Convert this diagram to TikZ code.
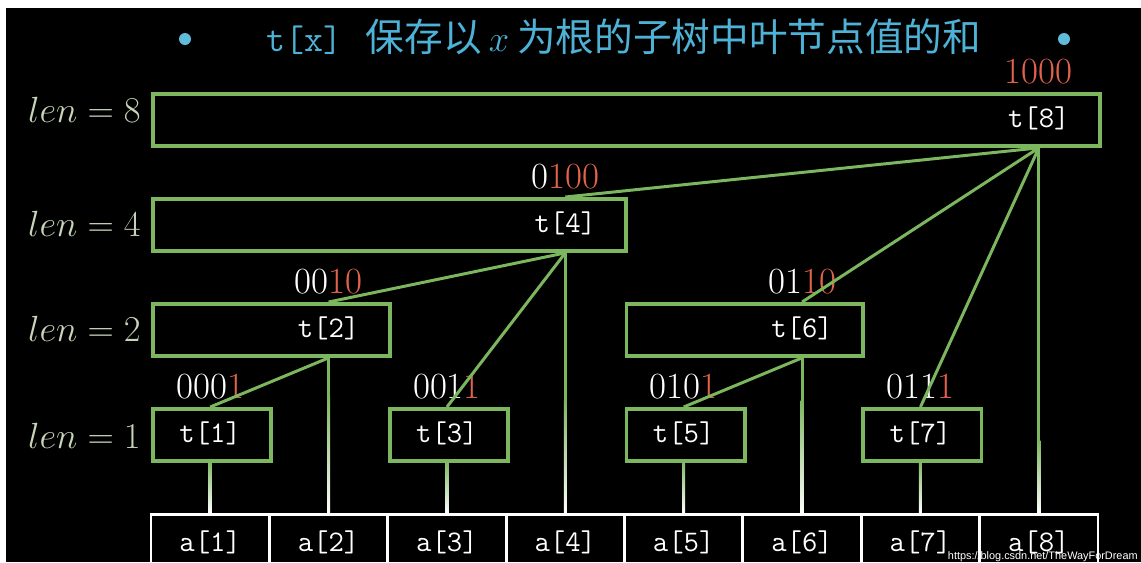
\documentclass[tikz,border=0pt]{standalone}
\usepackage{fontspec}
\newfontfamily\cjk{Noto Sans CJK SC}
\newfontfamily\marksans{Liberation Sans}
\usetikzlibrary{positioning}

\definecolor{treegreen}{RGB}{124,182,94}
\definecolor{lowbit}{RGB}{226,98,76}
\definecolor{headcyan}{RGB}{78,178,214}
\definecolor{lencolor}{RGB}{200,212,186}

\tikzset{
  tbox/.style={draw=treegreen, line width=2.2pt, minimum height=1.04cm, inner sep=0pt, anchor=north west},
  tname/.style={text=white, font=\fontsize{17}{20}\selectfont\ttfamily, inner sep=0pt},
  abox/.style={draw=white, line width=1.6pt, minimum width=2.3675cm, minimum height=1.1cm, inner sep=0pt, anchor=north, text=white, font=\fontsize{17}{20}\selectfont\ttfamily},
  bits/.style={font=\fontsize{21}{24}\selectfont, text=white, anchor=base, inner sep=0pt},
  lenlabel/.style={text=lencolor, font=\fontsize{21}{24}\selectfont, anchor=east, inner sep=0pt},
  link/.style={draw=treegreen, line width=1.7pt},
  dot/.style={circle, fill=headcyan!90!white, minimum size=0.24cm, inner sep=0pt}
}

\begin{document}
\begin{tikzpicture}[x=0.02cm, y=-0.02cm]

\useasboundingbox (0,0) rectangle (1141,562);
\fill[white] (0,0) rectangle (1141,562);
\fill[black] (6,8) rectangle (1141,562);

% title
\node[dot] (dotl) at (185,39) {};
\node[dot] (dotr) at (1064,39) {};
\node[text=headcyan, inner sep=0pt] (head) at (624,37)
  {{\fontsize{21}{24}\selectfont\ttfamily t[x]}\hspace{0.46cm}{\fontsize{22}{26}\selectfont\cjk 保存以}\hspace{0.14cm}{\fontsize{21}{24}\selectfont$x$}\hspace{0.16cm}{\fontsize{22}{26}\selectfont\cjk 为根的子树中叶节点值的和}};

% levels
\node[lenlabel] (len8) at (141,110) {$len = 8$};
\node[lenlabel] (len4) at (141,224) {$len = 4$};
\node[lenlabel] (len2) at (141,329) {$len = 2$};
\node[lenlabel] (len1) at (141,436) {$len = 1$};

% tree boxes t[k]
\foreach \k/\l/\top/\w/\r in {1/1/407/000/1, 2/2/302/00/10, 3/1/407/001/1, 4/4/197/0/100,
                               5/1/407/010/1, 6/2/302/01/10, 7/1/407/011/1, 8/8/92//1000} {
  \pgfmathsetmacro\lft{151+(\k-\l)*118.375}
  \pgfmathsetmacro\ax{151+(\k-0.5)*118.375}
  \node[tbox, minimum width=\l*2.3675cm] (b\k) at (\lft,\top) {};
  \node[tname] (t\k) at (\ax,\top+26) {t[\k]};
  \node[bits] (n\k) at (\ax,\top-9) {\w\textcolor{lowbit}{\r}};
}

% array a[k]
\foreach \k in {1,...,8} {
  \pgfmathsetmacro\ax{151+(\k-0.5)*118.375}
  \node[abox] (a\k) at (\ax,513) {a[\k]};
}

% parent links
\draw[link] (t8 |- b8.south) -- (t4 |- b4.north);
\draw[link] (t8 |- b8.south) -- (t6 |- b6.north);
\draw[link] (t8 |- b8.south) -- (t7 |- b7.north);
\draw[link] (t4 |- b4.south) -- (t2 |- b2.north);
\draw[link] (t4 |- b4.south) -- (t3 |- b3.north);
\draw[link] (t2 |- b2.south) -- (t1 |- b1.north);
\draw[link] (t6 |- b6.south) -- (t5 |- b5.north);

% down to the leaves
\foreach \k/\f in {1/460,2/395,3/460,4/400,5/460,6/400,7/460,8/440} {
  \draw[link] (t\k |- b\k.south) -- (a\k.north);
  \shade[top color=treegreen, bottom color=white]
    ([xshift=-0.85pt]a\k.north |- 0,\f) rectangle ([xshift=0.85pt]a\k.north);
}

\node[anchor=base east, inner sep=0pt, text=white, font=\fontsize{6.2}{7}\selectfont\marksans] (mark) at (1138,559)
  {https://blog.csdn.net/TheWayForDream};

\end{tikzpicture}
\end{document}
